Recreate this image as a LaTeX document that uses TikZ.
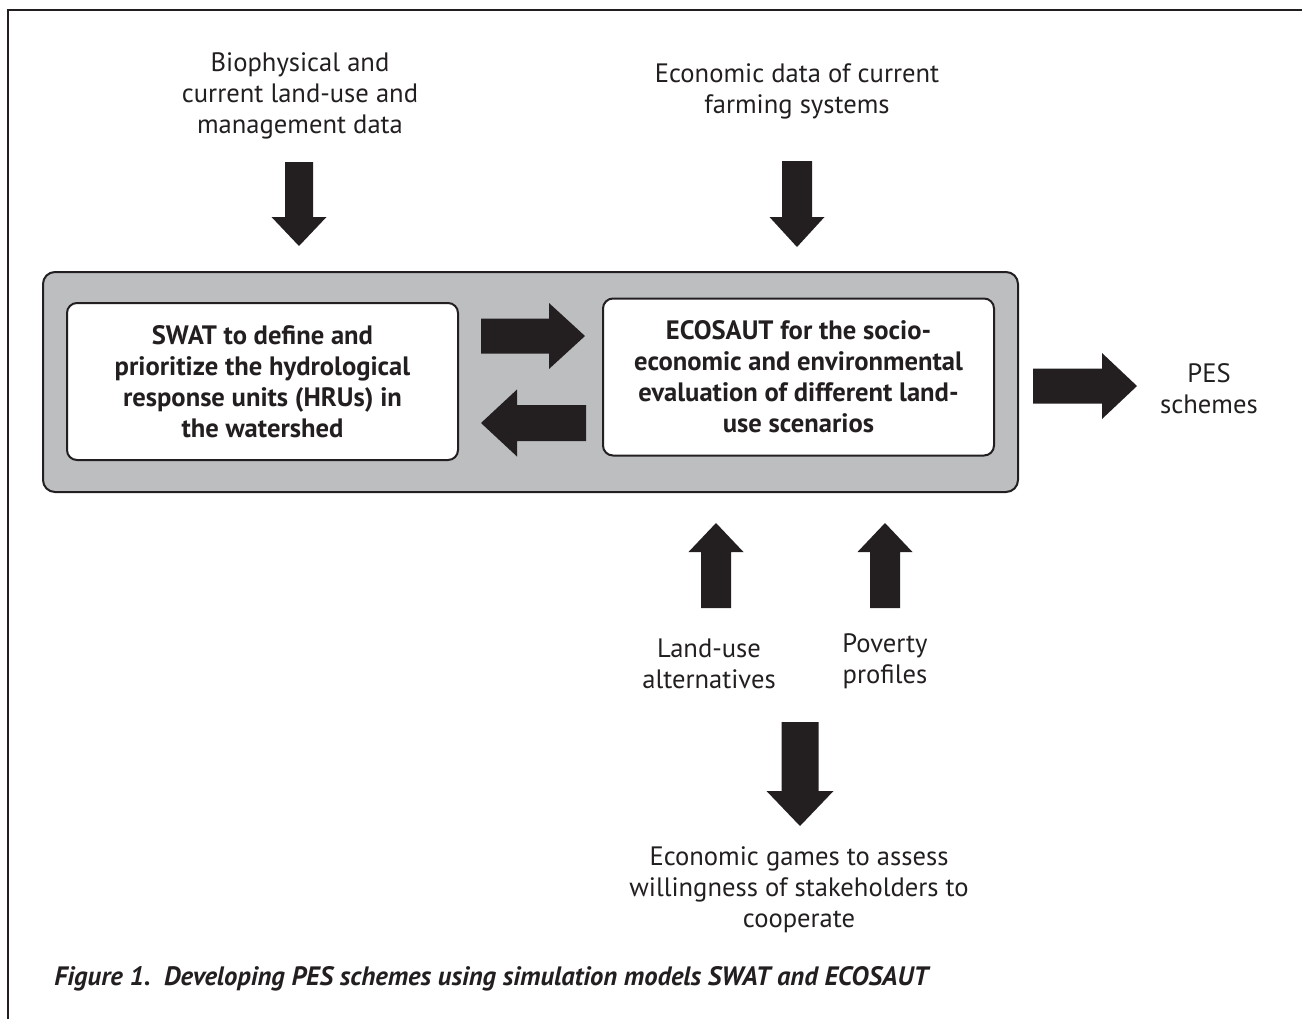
\documentclass[tikz,border=0pt]{standalone}
\usepackage{fontspec}
\setmainfont{PT Sans}
\definecolor{ink}{HTML}{231F20}
\definecolor{panel}{HTML}{BCBEC0}

% vertical block arrow: x centre, tail y, tip y, shaft half width, head half width, head length
\newcommand\vblock[6]{%
  \fill[ink] ({#1-#4},#2) -- ({#1+#4},#2) -- ({#1+#4},{#3-(#6)*sign(#3-#2)})
    -- ({#1+#5},{#3-(#6)*sign(#3-#2)}) -- (#1,#3) -- ({#1-#5},{#3-(#6)*sign(#3-#2)})
    -- ({#1-#4},{#3-(#6)*sign(#3-#2)}) -- cycle;}
% horizontal block arrow: y centre, tail x, tip x, shaft half width, head half width, head length
\newcommand\hblock[6]{%
  \fill[ink] (#2,{#1-#4}) -- (#2,{#1+#4}) -- ({#3-(#6)*sign(#3-#2)},{#1+#4})
    -- ({#3-(#6)*sign(#3-#2)},{#1+#5}) -- (#3,#1) -- ({#3-(#6)*sign(#3-#2)},{#1-#5})
    -- ({#3-(#6)*sign(#3-#2)},{#1-#4}) -- cycle;}

\begin{document}
\begin{tikzpicture}[x=0.5pt,y=-0.5pt,
  label/.style={text=ink, align=center, inner sep=0pt,
    font=\fontsize{13.3}{15.5}\selectfont},
  model/.style={draw=ink, line width=1pt, fill=white, rounded corners=5pt,
    align=center, text=ink, inner sep=0pt,
    minimum width=195.5pt, minimum height=78.5pt,
    font=\bfseries\fontsize{13.3}{15.5}\selectfont}]
\useasboundingbox (0,0) rectangle (1302,1019);

% page frame (only its left and top edges lie on the page)
\draw[ink, line width=1pt] (8,1019) -- (8,10) -- (1302,10);

% grey platform holding both models
\node[draw=ink, line width=1pt, fill=panel, rounded corners=6pt,
  minimum width=487.5pt, minimum height=110pt, inner sep=0pt] (platform) at (530.5,382) {};

\node[model] (swat) at (262.5,381.5)
  {SWAT to define and\\prioritize the hydrological\\response units (HRUs) in\\the watershed};
\node[model] (ecosaut) at (798.5,377)
  {ECOSAUT for the socio-\\economic and environmental\\evaluation of different land-\\use scenarios};

% inputs, exchanges and outputs
\vblock{299}{162}{246}{14}{27.5}{29}
\vblock{797}{161}{247}{15}{27.5}{30}
\hblock{336}{481}{585}{17.5}{33}{36}
\hblock{423}{586}{481}{18}{33.5}{36}
\hblock{386}{1033}{1137}{17.5}{33}{35}
\vblock{716}{608}{523}{15}{27.5}{29}
\vblock{885}{608}{523}{15}{27.5}{29}
\vblock{800}{722}{826}{18.5}{33.5}{35}

\node[label] (biophys) at (300,96) {Biophysical and\\current land-use and\\management data};
\node[label] (econdata) at (797,91) {Economic data of current\\farming systems};
\node[label] (pes) at (1209,389) {PES\\schemes};
\node[label] (landuse) at (709,664) {Land-use\\alternatives};
\node[label] (poverty) at (885,661) {Poverty\\profiles};
\node[label] (games) at (799,890) {Economic games to assess\\willingness of stakeholders to\\cooperate};

\node[anchor=base west, text=ink, inner sep=0pt,
  font=\bfseries\itshape\fontsize{13.3}{15.5}\selectfont] (caption) at (54,985)
  {Figure 1.\ \ Developing PES schemes using simulation models SWAT and ECOSAUT};
\end{tikzpicture}
\end{document}
